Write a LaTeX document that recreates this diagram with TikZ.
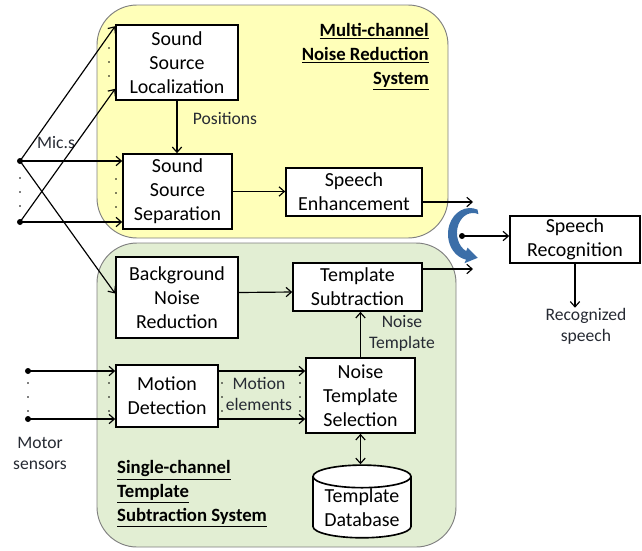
\documentclass[tikz,border=0pt]{standalone}
\usepackage{fontspec}
\setmainfont{Carlito}
\usetikzlibrary{arrows.meta,positioning,calc,shapes.geometric}
\definecolor{Ink}{HTML}{000000}
\definecolor{LabelInk}{HTML}{262A33}
\definecolor{PanelYellow}{HTML}{FFFFB9}
\definecolor{PanelGreen}{HTML}{E2EED3}
\definecolor{PanelEdge}{HTML}{7F7F7F}
\definecolor{SwitchBlue}{HTML}{3B6EA8}

\begin{document}
\begin{tikzpicture}[x=0.03cm,y=-0.03cm,>={Straight Barb[length=4.5pt,width=8pt]},
  blk/.style={draw=Ink,fill=white,line width=1.4pt,inner sep=0pt,align=center,font=\fontsize{17}{20.5}\selectfont},
  lbl/.style={inner sep=0pt,align=center,text=LabelInk,font=\fontsize{15}{18}\selectfont},
  ttl/.style={inner sep=0pt,font=\fontsize{16}{20.5}\selectfont\bfseries},
  flow/.style={->,Ink,line width=1pt},
  tip/.style={circle,fill=Ink,inner sep=0pt,minimum size=0.18cm}]
\useasboundingbox (0,0) rectangle (642,550);
% panels
\draw[PanelEdge,fill=PanelYellow,line width=0.8pt,rounded corners=1.2cm] (97,5) rectangle (448,238);
\draw[PanelEdge,fill=PanelGreen,line width=0.8pt,rounded corners=1.2cm] (97,243) rectangle (456,547);
\node[ttl,anchor=east,align=right] (mctitle) at (429,57) {\underline{Multi-channel}\\\underline{Noise Reduction}\\\underline{System}};
\node[ttl,anchor=west,align=left] (sctitle) at (117,494) {\underline{Single-channel}\\\underline{Template}\\\underline{Subtraction System}};
% blocks
\node[blk,minimum width=3.66cm,minimum height=2.25cm] (ssl) at (177,62.5) {Sound\\Source\\Localization};
\node[blk,minimum width=3.27cm,minimum height=2.25cm] (sss) at (177.5,191.5) {Sound\\Source\\Separation};
\node[blk,minimum width=4.08cm,minimum height=1.44cm] (se) at (354,192) {Speech\\Enhancement};
\node[blk,minimum width=3.9cm,minimum height=1.41cm] (sr) at (575,239.5) {Speech\\Recognition};
\node[blk,minimum width=3.66cm,minimum height=2.43cm] (bnr) at (177,297.5) {Background\\Noise\\Reduction};
\node[blk,minimum width=3.87cm,minimum height=1.44cm] (ts) at (357.5,287) {Template\\Subtraction};
\node[blk,minimum width=3.06cm,minimum height=1.86cm] (md) at (167,396) {Motion\\Detection};
\node[blk,minimum width=3.27cm,minimum height=2.25cm] (nts) at (360.5,395.5) {Noise\\Template\\Selection};
\node[blk,cylinder,shape border rotate=90,aspect=0.3,minimum width=2.94cm,minimum height=2.07cm] (db) at (362,507.5) {Template\\Database};
% inputs
\node[tip] (mt) at (20,161) {};
\node[tip] (mb) at (20,222) {};
\node[tip] (m1) at (28,371) {};
\node[tip] (m2) at (28,419) {};
\node[tip] (sw) at (462,236) {};
\coordinate (seout) at (473,202);
\coordinate (tsout) at (473,269);
% labels
\node[lbl] (pos) at (225,118) {Positions};
\node[lbl] (mics) at (56,143) {Mic.s};
\node[lbl] (ntl) at (402,333) {Noise\\Template};
\node[lbl] (mel) at (259,394) {Motion\\elements};
\node[lbl] (mot) at (40,453) {Motor\\sensors};
\node[lbl] (rec) at (586,326) {Recognized\\speech};
% connectors
\draw[flow] (mt.center) -- ($(ssl.north west)+(0,2)$);
\draw[flow] (mb.center) -- ($(ssl.south west)+(0,-12)$);
\draw[flow] (mt.center) -- (mt -| sss.west);
\draw[flow] (mb.center) -- (mb -| sss.west);
\draw[flow] (mt.center) -- ($(bnr.west)+(0,-4)$);
\draw[flow] (ssl.south) -- (ssl.south |- sss.north);
\draw[flow] (sss.east) -- (sss.east -| se.west);
\draw[flow] (seout -| se.east) -- (seout);
\draw[flow] (tsout -| ts.east) -- (tsout);
\draw[flow] ($(bnr.east)+(0,-5)$) -- ($(ts.west)+(0,5)$);
\draw[flow] (nts.north) -- (nts.north |- ts.south);
\draw[flow,<->] (nts.south) -- (nts.south |- db.north);
\draw[flow] (m1.center) -- (m1 -| md.west);
\draw[flow] (m2.center) -- (m2 -| md.west);
\draw[flow] (m1 -| md.east) -- (m1 -| nts.west);
\draw[flow] (m2 -| md.east) -- (m2 -| nts.west);
\draw[flow] (sw.center) -- (sw -| sr.west);
\draw[flow] (sr.south) -- (sr.south |- rec.north);
% switch
\fill[SwitchBlue] (477.5,209.6) arc[start angle=290,end angle=100,x radius=22,y radius=26]
  -- (464.4,263.2) -- (477.8,257.8) -- (467.6,247.6) -- (466.2,251.1)
  arc[start angle=115,end angle=290,x radius=16,y radius=20] -- cycle;
% ellipsis dots
\foreach \yy in {178,192,206} \fill[Ink] (20,\yy) circle (0.8);
\foreach \yy in {48,62,76} \fill[Ink] (109,\yy) circle (0.8);
\foreach \yy in {179,193,207} \fill[Ink] (116,\yy) circle (0.8);
\foreach \yy in {383,397,411} {
  \fill[Ink] (28,\yy) circle (0.8);
  \fill[Ink] (109,\yy) circle (0.8);
  \fill[Ink] (222,\yy) circle (0.8);
  \fill[Ink] (300,\yy) circle (0.8);
}
\end{tikzpicture}
\end{document}
